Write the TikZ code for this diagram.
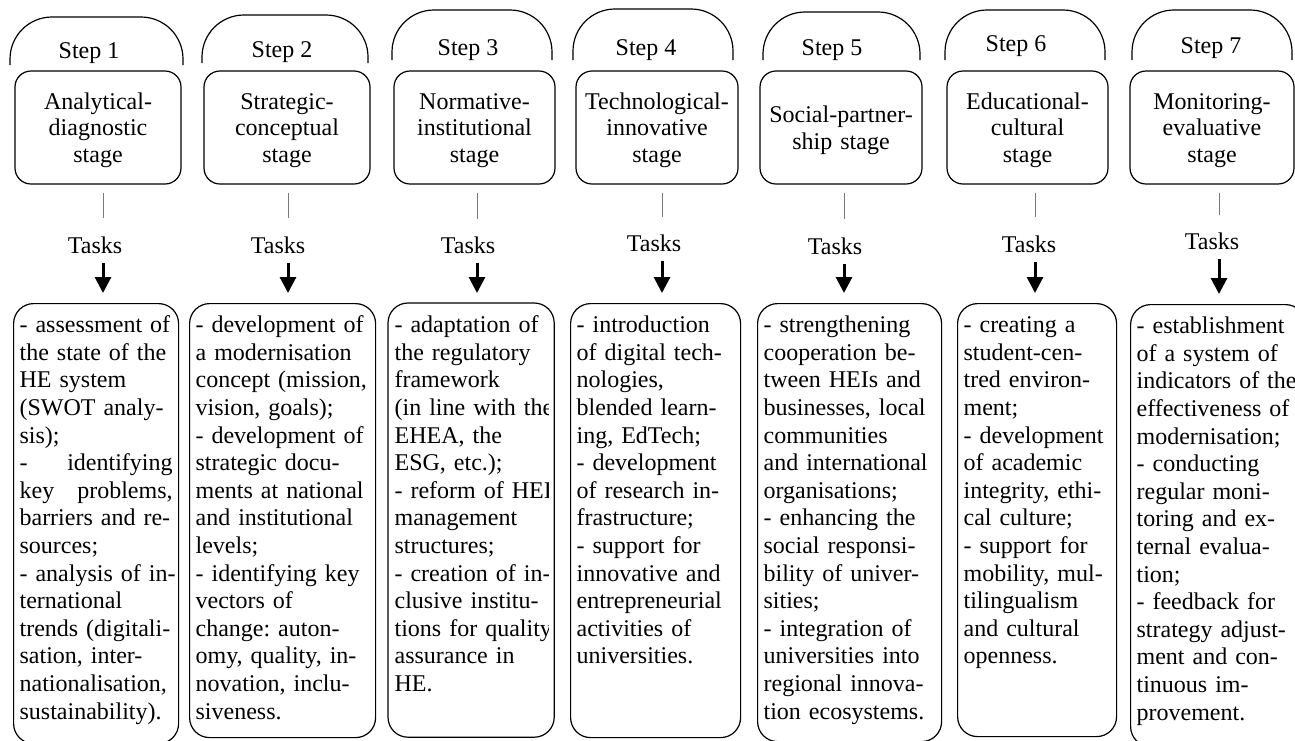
\documentclass[tikz,border=0pt]{standalone}
\usepackage{fontspec}
\setmainfont{Liberation Serif}
\usepackage{tikz}
\usetikzlibrary{positioning,arrows.meta}
\definecolor{stemcol}{RGB}{120,120,120}
\newcommand\stgfont{\fontsize{12pt}{13.3pt}\selectfont}
\newcommand\tskfont{\fontsize{12pt}{13.8pt}\selectfont\frenchspacing}

\begin{document}
\begin{tikzpicture}[x=0.5pt, y=-0.5pt,
  steptab/.style={draw=black, line width=0.6pt, rounded corners=21pt},
  lb/.style={font=\tskfont, inner sep=4pt},
  stg/.style={draw=black, line width=0.6pt, rounded corners=8pt, font=\stgfont,
              align=center, minimum height=56.5pt, inner xsep=3pt, text height=11pt,
              minimum width=#1, text width=#1-6pt},
  tsk/.style={draw=black, line width=0.6pt, rounded corners=10pt, font=\tskfont,
              align=left, anchor=north west, inner xsep=3pt, inner ysep=0pt,
              text height=14.5pt, text width=#1-6pt},
  frame/.style={draw=black, line width=0.6pt, rounded corners=10pt},
  stem/.style={draw=stemcol, line width=0.5pt, shorten <=4pt, shorten >=5pt},
  ar/.style={-{Triangle[width=8pt, length=8pt]}, line width=1.5pt,
             shorten <=0.5pt, shorten >=5pt},
]
\useasboundingbox (0,0) rectangle (1295,740);

% step tabs
\foreach \n/\xl/\xr/\yt/\yb/\sx/\sy in {1/10/183/17/65/89/53, 2/202/368/15/63/282/52,
    3/392/552/10/60/468/50.5, 4/573/733/9/60/646/50, 5/763/920/12/60/832/50,
    6/945/1105/10/60/1016/46.5, 7/1132/1292/10/60/1211/48.5} {
  \draw[steptab] (\xl,\yb) -- (\xl,\yt) -- (\xr,\yt) -- (\xr,\yb);
  \node[lb] (step\n) at (\sx,\sy) {Step \n};
}

% stages
\node[stg=83pt]   (st1) at (98,127.5)   {Analytical-\\diagnostic\\stage};
\node[stg=83pt]   (st2) at (287,127.5)  {Strategic-\\conceptual\\stage};
\node[stg=80.5pt] (st3) at (474.5,127.5){Normative-\\institutional\\stage};
\node[stg=81pt]   (st4) at (657,127.5)  {Technological-\\innovative\\stage};
\node[stg=81pt]   (st5) at (841,127.5)  {Social-partner-\\ship stage};
\node[stg=80.5pt] (st6) at (1027.5,127.5){Educational-\\cultural\\stage};
\node[stg=82pt]   (st7) at (1212,127.5) {Monitoring-\\evaluative\\stage};

\foreach \n/\tx/\ty in {1/95/245, 2/278/245, 3/468/245.5, 4/654/243.5,
    5/835/246, 6/1029/244, 7/1212/241.5}
  \node[lb] (tk\n) at (\tx,\ty) {Tasks};

% task lists
\node[tsk=82.5pt, text depth=205.5pt] (tb1) at (13,303)
  {- assessment of\\
   the state of the\\
   HE system\\
   (SWOT analy-\\
   sis);\\
   -\hfill identifying\\
   key\hfill problems,\\
   barriers and re-\\
   sources;\\
   \mbox{- analysis of in-}\\
   ternational\\
   trends (digitali-\\
   sation, inter-\\
   nationalisation,\\
   sustainability).};
\node[tsk=93pt, text depth=202.5pt] (tb2) at (189,303)
  {- development of\\
   a modernisation\\
   concept (mission,\\
   vision, goals);\\
   - development of\\
   strategic docu-\\
   ments at national\\
   and institutional\\
   levels;\\
   - identifying key\\
   vectors of\\
   change: auton-\\
   omy, quality, in-\\
   novation, inclu-\\
   siveness.};
\begin{scope}
  \clip (380,295) rectangle (548,750);
  \node[tsk=82.5pt, draw=none, text depth=202pt] (tb3) at (388,303)
    {- adaptation of\\
     the regulatory\\
     framework\\
     \mbox{(in line with the}\\
     EHEA, the\\
     ESG, etc.);\\
     \mbox{- reform of HEIs}\\
     management\\
     structures;\\
     \mbox{- creation of in-}\\
     clusive institu-\\
     \mbox{tions for quality}\\
     assurance in\\
     HE.};
\end{scope}
\draw[frame] (tb3.south west) rectangle (tb3.north east);
\node[tsk=85pt, text depth=202.5pt] (tb4) at (570,303)
  {- introduction\\
   of digital tech-\\
   nologies,\\
   blended learn-\\
   ing, EdTech;\\
   - development\\
   of research in-\\
   frastructure;\\
   - support for\\
   innovative and\\
   entrepreneurial\\
   activities of\\
   universities.};
\node[tsk=92pt, text depth=204.5pt] (tb5) at (757,303)
  {- strengthening\\
   cooperation be-\\
   tween HEIs and\\
   businesses, local\\
   communities\\
   and international\\
   organisations;\\
   - enhancing the\\
   social responsi-\\
   bility of univer-\\
   sities;\\
   - integration of\\
   universities into\\
   regional innova-\\
   tion ecosystems.};
\node[tsk=79.5pt, text depth=202pt] (tb6) at (957,303)
  {- creating a\\
   student-cen-\\
   tred environ-\\
   ment;\\
   - development\\
   of academic\\
   integrity, ethi-\\
   cal culture;\\
   - support for\\
   mobility, mul-\\
   tilingualism\\
   and cultural\\
   openness.};
\node[tsk=87.5pt, text depth=206.5pt] (tb7) at (1130,304)
  {- establishment\\
   of a system of\\
   indicators of the\\
   effectiveness of\\
   modernisation;\\
   - conducting\\
   regular moni-\\
   toring and ex-\\
   ternal evalua-\\
   tion;\\
   - feedback for\\
   strategy adjust-\\
   ment and con-\\
   tinuous im-\\
   provement.};

% connectors
\foreach \n/\lx in {1/103, 2/288, 3/477, 4/662, 5/844, 6/1035, 7/1219} {
  \coordinate (x\n) at (\lx,0);
  \draw[stem] (st\n.south -| x\n) -- (tk\n.north -| x\n);
  \draw[ar] (tk\n.south -| x\n) -- (tb\n.north -| x\n);
}
\end{tikzpicture}
\end{document}
